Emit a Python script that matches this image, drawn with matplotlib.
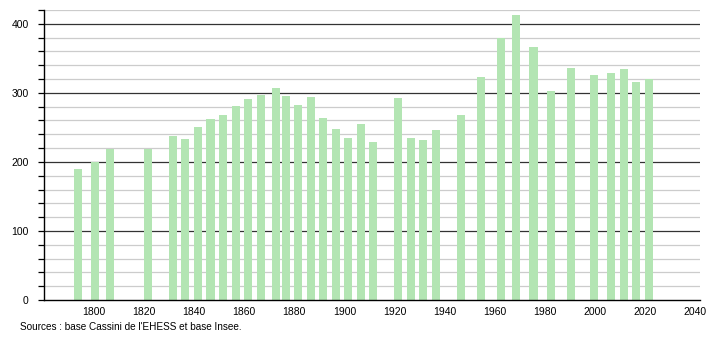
import numpy as np
import matplotlib
matplotlib.use("Agg")
import matplotlib.pyplot as plt

# Population per census year
years = [1793, 1800, 1806, 1821, 1831, 1836, 1841, 1846, 1851, 1856, 1861, 1866,
         1872, 1876, 1881, 1886, 1891, 1896, 1901, 1906, 1911, 1921, 1926, 1931,
         1936, 1946, 1954, 1962, 1968, 1975, 1982, 1990, 1999, 2006, 2011, 2016, 2021]
population = [190, 200, 218, 218, 237, 233, 251, 262, 268, 281, 291, 297,
              307, 296, 283, 294, 264, 248, 235, 255, 229, 293, 235, 232,
              246, 268, 323, 379, 413, 367, 302, 336, 326, 329, 335, 316, 320]
x_ticks = list(range(1800, 2041, 20))
y_ticks = [0, 100, 200, 300, 400]
source = "Sources : base Cassini de l'EHESS et base Insee."

plt.rcParams['font.family'] = ['Liberation Sans', 'DejaVu Sans']

fig = plt.figure(figsize=(7.1, 3.4), dpi=100)
ax = fig.add_axes([44/710, 40/340, 656/710, 290/340])

# grid: light every 20, dark every 100
for v in range(20, 421, 20):
    if v % 100 == 0:
        ax.axhline(v, color='#333333', lw=0.9, zorder=1)
    else:
        ax.axhline(v, color='#cccccc', lw=0.9, zorder=1)

ax.bar(np.array(years) + 0.5, population, width=3.2, color='#b3e5b3', zorder=2)

ax.set_xlim(1780, 2042)
ax.set_ylim(0, 420)
ax.set_xticks(x_ticks)
ax.set_yticks(range(0, 421, 20), minor=False)
ax.set_yticklabels([str(v) if v in y_ticks else '' for v in range(0, 421, 20)])
ax.tick_params(axis='y', length=4, width=0.9, pad=7, labelsize=7.5, color='black')
ax.tick_params(axis='x', length=0, pad=5, labelsize=7.5)

for s in ['top', 'right']:
    ax.spines[s].set_visible(False)
ax.spines['left'].set_linewidth(1)
ax.spines['bottom'].set_linewidth(1)
ax.spines['left'].set_zorder(3)
ax.spines['bottom'].set_zorder(3)

fig.text(20/710, 1 - 327/340, source, fontsize=7.2, va='center', ha='left')

fig.savefig('out.png', dpi=100)
